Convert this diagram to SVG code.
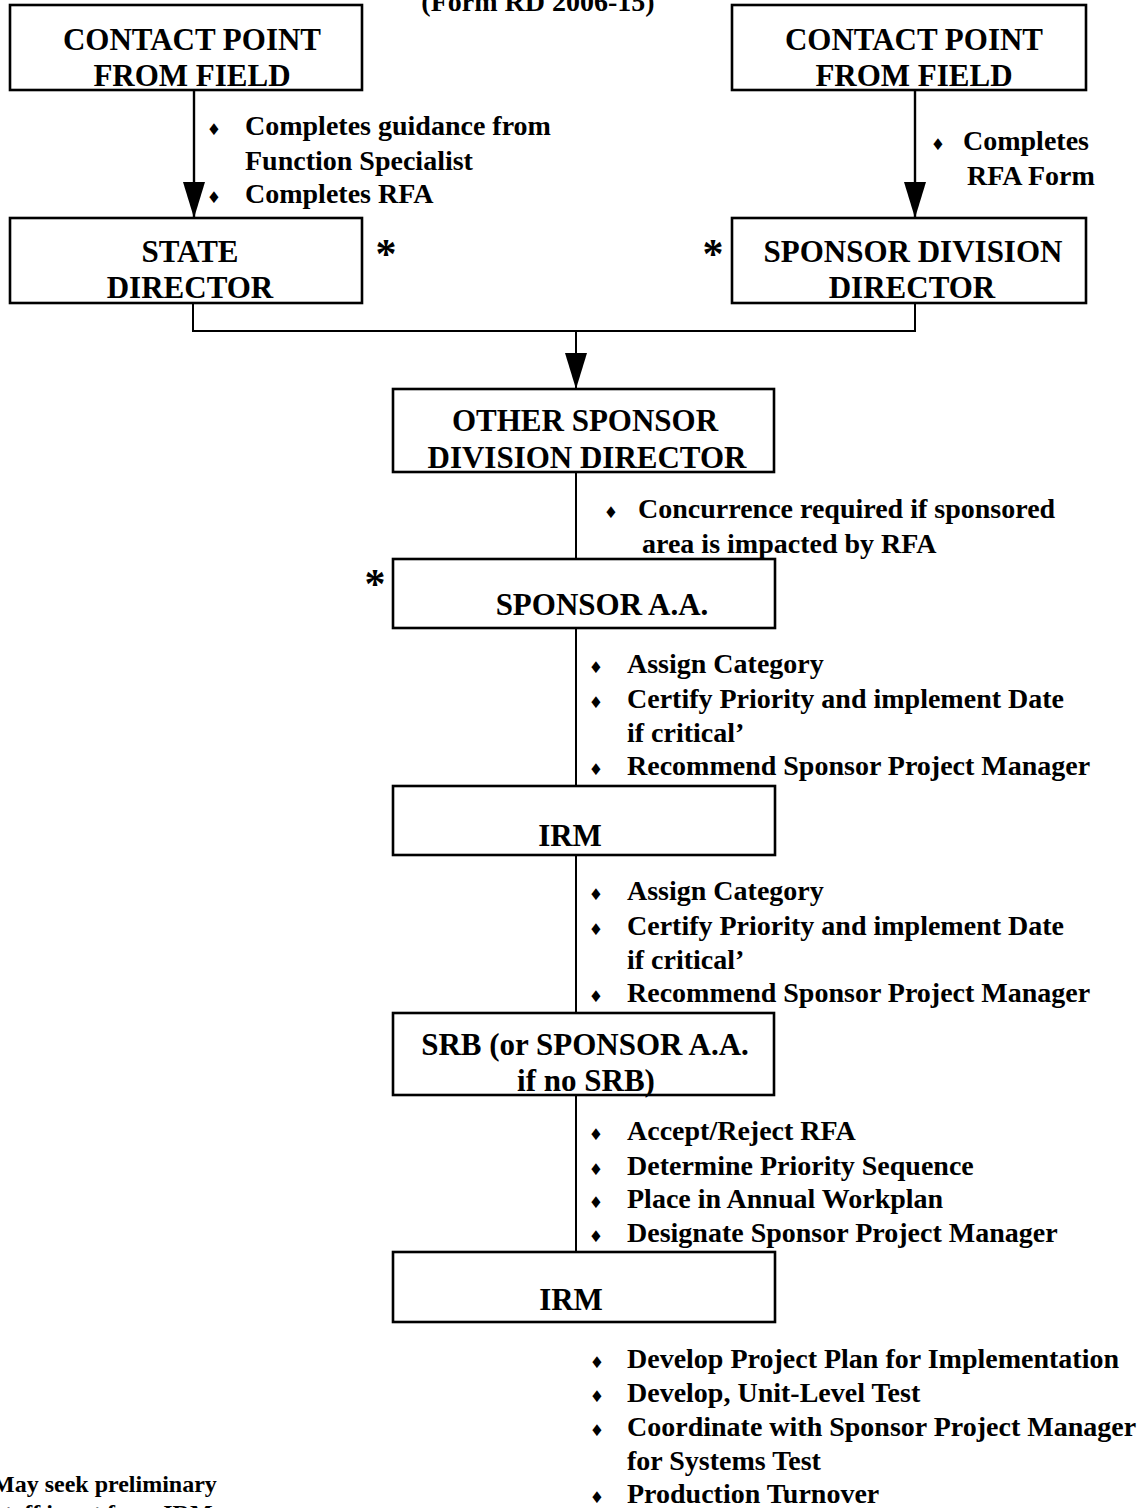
<svg xmlns="http://www.w3.org/2000/svg" width="1145" height="1508" viewBox="0 0 1145 1508">
<style>
  .box { fill: #ffffff; stroke: #000000; stroke-width: 2.6; }
  .t { font-family: "Liberation Serif", "Times New Roman", serif; font-weight: bold; fill: #000000; }
  .bt { font-size: 31px; text-anchor: middle; }
  .lt { font-size: 28px; }
  .nt { font-size: 24px; }
  .ast { font-size: 42px; text-anchor: middle; }
  .b { font-family: "DejaVu Sans", sans-serif; font-size: 16px; text-anchor: middle; fill: #000000; }
  .ln { fill: none; stroke: #000000; stroke-width: 2; }
  .ar { fill: none; stroke: #000000; stroke-width: 2.4; }
</style>
<defs>
  <marker id="arrow" markerUnits="userSpaceOnUse" viewBox="0 0 36 22" refX="35" refY="11" markerWidth="36" markerHeight="22" orient="auto">
    <path d="M0,0 L36,11 L0,22 Z" fill="#000000"/>
  </marker>
</defs>
<rect width="1145" height="1508" fill="#ffffff"/>

<g id="title">
  <text class="t lt" x="538" y="11" text-anchor="middle">(Form RD 2006-15)</text>
</g>

<g id="connectors">
  <line class="ar" x1="194" y1="90" x2="194" y2="217" marker-end="url(#arrow)"/>
  <line class="ar" x1="915" y1="90" x2="915" y2="217" marker-end="url(#arrow)"/>
  <polyline class="ln" points="193,303 193,331 915,331 915,303"/>
  <line class="ln" x1="576" y1="331" x2="576" y2="388" marker-end="url(#arrow)"/>
  <line class="ln" x1="576" y1="472" x2="576" y2="559"/>
  <line class="ln" x1="576" y1="628" x2="576" y2="786"/>
  <line class="ln" x1="576" y1="855" x2="576" y2="1013"/>
  <line class="ln" x1="576" y1="1095" x2="576" y2="1252"/>
</g>

<g id="n-contact-left">
  <rect class="box" x="10" y="5" width="352" height="85"/>
  <text class="t bt" x="192" y="50">CONTACT POINT</text>
  <text class="t bt" x="192" y="86">FROM FIELD</text>
</g>
<g id="n-contact-right">
  <rect class="box" x="732" y="5" width="354" height="85"/>
  <text class="t bt" x="914" y="50">CONTACT POINT</text>
  <text class="t bt" x="914" y="86">FROM FIELD</text>
</g>
<g id="n-state">
  <rect class="box" x="10" y="218" width="352" height="85"/>
  <text class="t bt" x="190" y="262">STATE</text>
  <text class="t bt" x="190" y="298">DIRECTOR</text>
</g>
<g id="n-sponsor-div">
  <rect class="box" x="732" y="218" width="354" height="85"/>
  <text class="t bt" x="913" y="262">SPONSOR DIVISION</text>
  <text class="t bt" x="912" y="298">DIRECTOR</text>
</g>
<g id="n-other">
  <rect class="box" x="393" y="389" width="381" height="83"/>
  <text class="t bt" x="585" y="431">OTHER SPONSOR</text>
  <text class="t bt" x="587" y="468">DIVISION DIRECTOR</text>
</g>
<g id="n-sponsor-aa">
  <rect class="box" x="393" y="559" width="382" height="69"/>
  <text class="t bt" x="602" y="615">SPONSOR A.A.</text>
</g>
<g id="n-irm-1">
  <rect class="box" x="393" y="786" width="382" height="69"/>
  <text class="t bt" x="570" y="846">IRM</text>
</g>
<g id="n-srb">
  <rect class="box" x="393" y="1013" width="381" height="82"/>
  <text class="t bt" x="585" y="1055">SRB (or SPONSOR A.A.</text>
  <text class="t bt" x="586" y="1091">if no SRB)</text>
</g>
<g id="n-irm-2">
  <rect class="box" x="393" y="1252" width="382" height="70"/>
  <text class="t bt" x="571" y="1310">IRM</text>
</g>

<g id="asterisks">
  <text class="t ast" x="386" y="268">*</text>
  <text class="t ast" x="713" y="268">*</text>
  <text class="t ast" x="375" y="598">*</text>
</g>

<g id="labels">
  <text class="b" x="214" y="135">♦</text>
  <text class="t lt" x="245" y="135">Completes guidance from</text>
  <text class="t lt" x="245" y="170">Function Specialist</text>
  <text class="b" x="214" y="203">♦</text>
  <text class="t lt" x="245" y="203">Completes RFA</text>

  <text class="b" x="938" y="150">♦</text>
  <text class="t lt" x="963" y="150">Completes</text>
  <text class="t lt" x="967" y="185">RFA Form</text>

  <text class="b" x="611" y="518">♦</text>
  <text class="t lt" x="638" y="518">Concurrence required if sponsored</text>
  <text class="t lt" x="642" y="553">area is impacted by RFA</text>

  <text class="b" x="596" y="673">♦</text>
  <text class="t lt" x="627" y="673">Assign Category</text>
  <text class="b" x="596" y="708">♦</text>
  <text class="t lt" x="627" y="708">Certify Priority and implement Date</text>
  <text class="t lt" x="627" y="742">if critical’</text>
  <text class="b" x="596" y="775">♦</text>
  <text class="t lt" x="627" y="775">Recommend Sponsor Project Manager</text>

  <text class="b" x="596" y="900">♦</text>
  <text class="t lt" x="627" y="900">Assign Category</text>
  <text class="b" x="596" y="935">♦</text>
  <text class="t lt" x="627" y="935">Certify Priority and implement Date</text>
  <text class="t lt" x="627" y="969">if critical’</text>
  <text class="b" x="596" y="1002">♦</text>
  <text class="t lt" x="627" y="1002">Recommend Sponsor Project Manager</text>

  <text class="b" x="596" y="1140">♦</text>
  <text class="t lt" x="627" y="1140">Accept/Reject RFA</text>
  <text class="b" x="596" y="1175">♦</text>
  <text class="t lt" x="627" y="1175">Determine Priority Sequence</text>
  <text class="b" x="596" y="1208">♦</text>
  <text class="t lt" x="627" y="1208">Place in Annual Workplan</text>
  <text class="b" x="596" y="1242">♦</text>
  <text class="t lt" x="627" y="1242">Designate Sponsor Project Manager</text>

  <text class="b" x="597" y="1368">♦</text>
  <text class="t lt" x="627" y="1368">Develop Project Plan for Implementation</text>
  <text class="b" x="597" y="1402">♦</text>
  <text class="t lt" x="627" y="1402">Develop, Unit-Level Test</text>
  <text class="b" x="597" y="1436">♦</text>
  <text class="t lt" x="627" y="1436">Coordinate with Sponsor Project Manager</text>
  <text class="t lt" x="627" y="1470">for Systems Test</text>
  <text class="b" x="597" y="1503">♦</text>
  <text class="t lt" x="627" y="1503">Production Turnover</text>
</g>

<g id="note">
  <text class="t nt" x="-8" y="1492">May seek preliminary</text>
  <text class="t nt" x="-5" y="1521">staff input from IRM</text>
</g>
</svg>
